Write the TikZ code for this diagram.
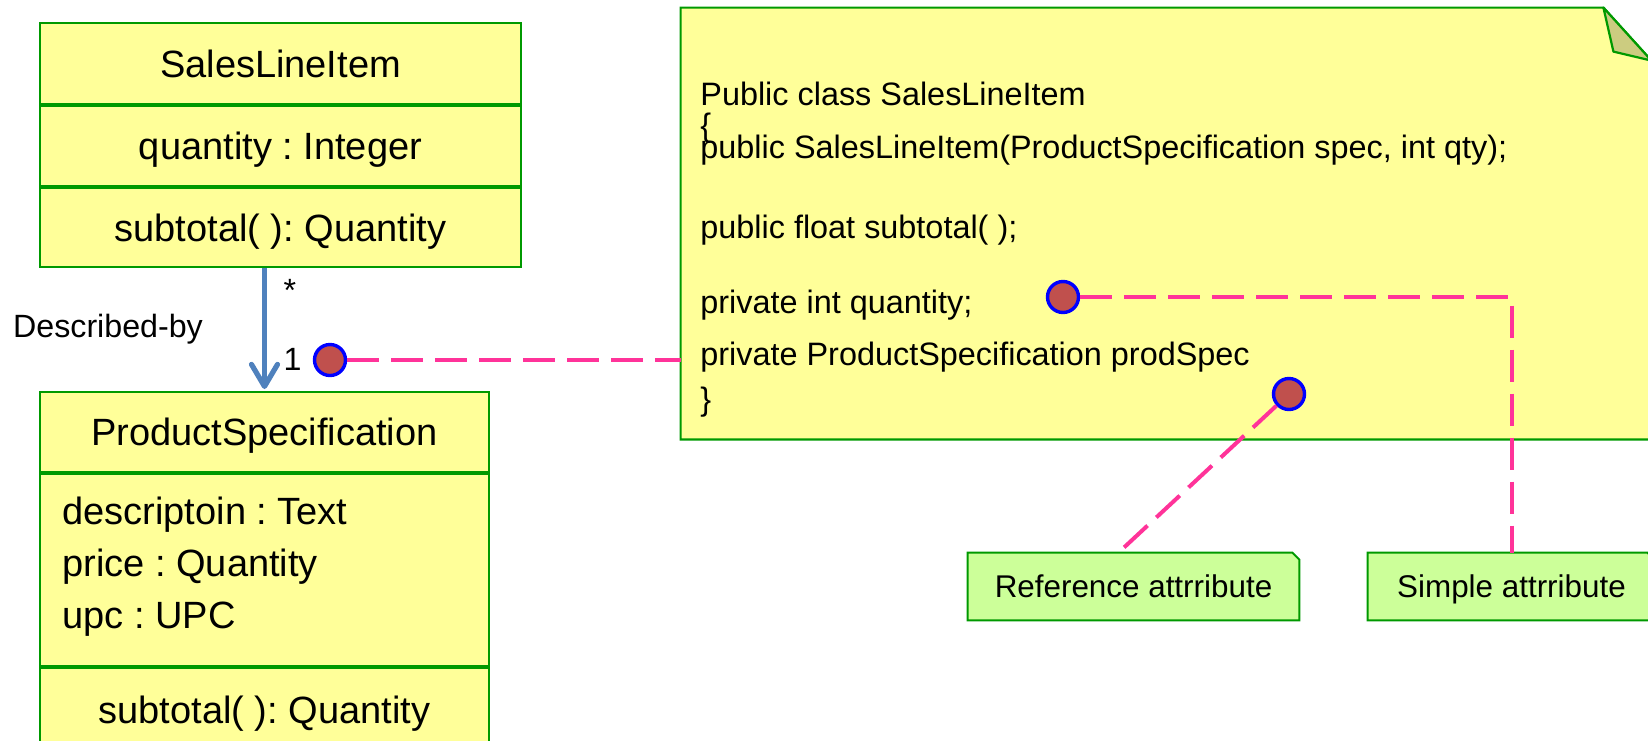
\documentclass[tikz,border=0pt]{standalone}
\usepackage{fontspec}
\setmainfont{Liberation Sans}
\usetikzlibrary{positioning,arrows.meta,backgrounds}

\definecolor{classfill}{HTML}{FFFF99}
\definecolor{umlgreen}{HTML}{009900}
\definecolor{foldfill}{HTML}{CCCC80}
\definecolor{tagfill}{HTML}{CCFF99}
\definecolor{assocblue}{HTML}{4F81BD}
\definecolor{linkpink}{HTML}{FF3399}
\definecolor{dotred}{HTML}{C0504D}

\tikzset{
  compartment/.style={draw=umlgreen, fill=classfill, line width=1pt,
    inner sep=0pt, text depth=0pt, font=\fontsize{19}{23}\selectfont},
  attrline/.style={anchor=base west, inner sep=0pt, font=\fontsize{19}{23}\selectfont},
  codeline/.style={anchor=base west, inner sep=0pt, font=\fontsize{16.2}{19}\selectfont},
  lbl/.style={inner sep=0pt, text depth=0pt, font=\fontsize{16.1}{19}\selectfont},
  tag/.style={inner sep=0pt, text depth=0pt, minimum height=33.5pt,
    font=\fontsize{15.7}{19}\selectfont},
  tagline/.style={draw=umlgreen, fill=tagfill, line width=1pt},
  dot/.style={circle, draw=blue, fill=dotred, line width=1.7pt,
    minimum size=15.5pt, inner sep=0pt},
  link/.style={draw=linkpink, line width=2pt, dash pattern=on 16pt off 6pt},
  assoc/.style={draw=assocblue, line width=2.6pt, shorten >=1pt,
    -{Straight Barb[length=11pt, width=13pt, round]}}
}

\begin{document}
\frenchspacing
\begin{tikzpicture}[x=0.5pt, y=-0.5pt]
  \clip (0,0) rectangle (1648,740);

  % SalesLineItem
  \node[compartment, minimum width=240.5pt, minimum height=40.5pt] (sli) at (280.5,63.5) {SalesLineItem};
  \node[compartment, minimum width=240.5pt, minimum height=40pt, below=0pt of sli] (sliattr) {quantity : Integer};
  \node[compartment, minimum width=240.5pt, minimum height=39.5pt, below=0pt of sliattr] (sliop) {subtotal( ): Quantity};

  % ProductSpecification
  \node[compartment, minimum width=224.5pt, minimum height=40pt] (ps) at (264.5,432) {ProductSpecification};
  \node[compartment, minimum width=224.5pt, minimum height=96pt, below=0pt of ps] (psattr) {};
  \node[compartment, minimum width=224.5pt, minimum height=42pt, below=0pt of psattr] (psop) {subtotal( ): Quantity};
  \node[attrline] (desc) at (62,524) {descriptoin : Text};
  \node[attrline] (price) at (62,576) {price : Quantity};
  \node[attrline] (upc) at (62,628) {upc : UPC};

  % association
  \draw[assoc] (sliop.south -| ps.north) -- (ps.north);
  \node[lbl] (many) at (290,290) {*};
  \node[lbl] (one) at (292.5,359) {1};
  \node[lbl] (describedby) at (108,326) {Described-by};

  % code note
  \node[minimum width=485pt, minimum height=215.5pt, inner sep=0pt] (code) at (1166,223.5) {};
  \filldraw[draw=umlgreen, fill=classfill, line width=1.1pt]
    (code.south west) -- (code.north west) -- ([xshift=-24pt]code.north east)
    -- ([yshift=-26.5pt]code.north east) -- (code.south east) -- cycle;
  \filldraw[draw=umlgreen, fill=foldfill, line width=1.1pt, line join=round]
    ([xshift=-24pt]code.north east) -- ([xshift=-19pt,yshift=-22pt]code.north east)
    -- ([yshift=-26.5pt]code.north east) -- cycle;
  \node[codeline] (cl1) at (700,105) {Public class SalesLineItem};
  \node[codeline] (cl2) at (700,136) {\{};
  \node[codeline] (cl3) at (700,158) {public SalesLineItem(ProductSpecification spec, int qty);};
  \node[codeline] (cl4) at (700,238) {public float subtotal( );};
  \node[codeline] (cl5) at (700,313) {private int quantity;};
  \node[codeline] (cl6) at (700,365) {private ProductSpecification prodSpec};
  \node[codeline] (cl7) at (700,410) {\}};

  % comment tags
  \node[tag, minimum width=165.5pt] (refnote) at (1133.5,586.5) {Reference attrribute};
  \node[tag, minimum width=143.5pt] (simple) at (1511.5,586.5) {Simple attrribute};
  \begin{pgfonlayer}{background}
    \filldraw[tagline] (refnote.south west) -- (refnote.north west) -- ([xshift=-3.5pt]refnote.north east)
      -- ([yshift=-3.5pt]refnote.north east) -- (refnote.south east) -- cycle;
    \filldraw[tagline] (simple.south west) -- (simple.north west) -- ([xshift=-4pt]simple.north east)
      -- ([yshift=-4pt]simple.north east) -- (simple.south east) -- cycle;
  \end{pgfonlayer}

  % markers and links
  \node[dot] (specdot) at (330,360) {};
  \node[dot] (qtydot) at (1063,297) {};
  \node[dot] (refdot) at (1289,394) {};
  \draw[link] (specdot) -- (specdot -| code.west);
  \draw[link] (qtydot) -| (simple.north);
  \draw[link] (refdot) -- ([xshift=-7.5pt]refnote.north);
\end{tikzpicture}
\end{document}
